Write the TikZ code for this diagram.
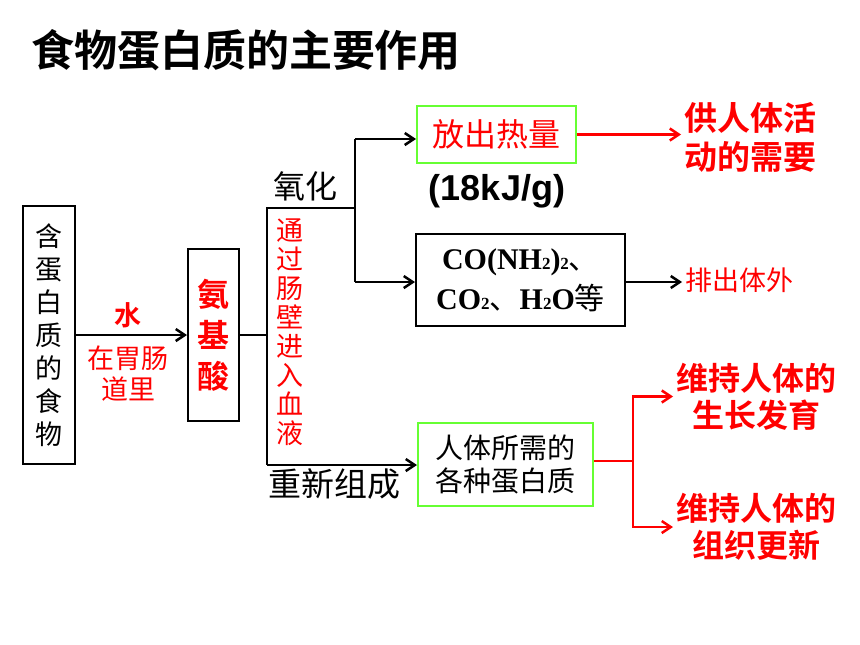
\documentclass[tikz,border=0pt]{standalone}
\usepackage{fontspec}
\setmainfont{Noto Sans CJK SC}[BoldFont={Noto Sans CJK SC Bold}]
\newfontfamily\latinsans{Liberation Sans}
\newfontfamily\latinserif{Liberation Serif}
\usepackage{tikz}
\usetikzlibrary{positioning, calc, arrows.meta}

\definecolor{boxgreen}{RGB}{102,255,51}
\definecolor{textred}{RGB}{255,0,0}
\newcommand{\fsz}[2]{\fontsize{#1}{#2}\selectfont}
\newcommand{\chemsub}[1]{{\fsz{17}{17}#1}}

\begin{document}
\begin{tikzpicture}[x=1pt,y=-1pt,line width=2.5pt,
     >={Straight Barb[length=9pt,width=12pt]},
     box/.style={rectangle,draw,line width=2pt,inner sep=0pt,align=center},
     greenbox/.style={box,draw=boxgreen},
     redtext/.style={text=textred,inner sep=0pt,align=center},
     plaintext/.style={inner sep=0pt,align=center}]

  \useasboundingbox (0,0) rectangle (860,645);

  \node[plaintext, font={\fsz{43}{43}\bfseries}] (title) at (246,50) {食物蛋白质的主要作用};

  % left part
  \node[box, minimum width=52pt, minimum height=258pt, font={\fsz{27}{33}}] (food) at (49,335)
     {含\\蛋\\白\\质\\的\\食\\物};
  \node[box, minimum width=51pt, minimum height=172pt, text=textred, font={\fsz{32}{41}\bfseries}]
     (amino) at (213.5,335) {氨\\基\\酸};
  \node[redtext, font={\fsz{27}{27}\bfseries}] (water) at (128,315) {水};
  \node[redtext, font={\fsz{27}{31}}] (stomach) at (128,374) {在胃肠\\道里};

  \coordinate (split) at (267,335);
  \coordinate (oxjoin) at (267,208);
  \coordinate (rejoin) at (267,465);
  \coordinate (oxfork) at (355,208);
  \coordinate (oxhigh) at (355,139);
  \coordinate (oxlow) at (355,282);

  \node[plaintext, font={\fsz{32}{32}}] (oxidize) at (305,186) {氧化};
  \node[redtext, font={\fsz{27}{29}}] (blood) at (290,332.5) {通\\过\\肠\\壁\\进\\入\\血\\液};
  \node[plaintext, font={\fsz{33}{33}}] (rebuild) at (334,484) {重新组成};

  % right part
  \node[greenbox, minimum width=159pt, minimum height=57pt, text=textred, font={\fsz{32}{32}}]
     (heat) at (496.5,134.5) {放出热量};
  \node[plaintext, font={\fsz{36}{36}\latinsans\bfseries}] (energy) at (497,191) {(18kJ/g)};
  \node[box, minimum width=209pt, minimum height=92pt, font={\fsz{30}{40}\latinserif\bfseries}]
     (products) at (520.5,280)
     {CO(NH\chemsub{2})\chemsub{2}{\mdseries\rmfamily 、}\hspace{10pt}\\
      CO\chemsub{2}{\mdseries\rmfamily 、}H\chemsub{2}O{\mdseries\rmfamily 等}};
  \node[greenbox, minimum width=175pt, minimum height=83pt, font={\fsz{28}{33}}]
     (proteins) at (505.5,464.5) {人体所需的\\各种蛋白质};

  \node[redtext, anchor=west, inner xsep=2pt, font={\fsz{33}{39}\bfseries}] (energyuse) at (681,137)
     {供人体活\\动的需要};
  \node[redtext, anchor=west, inner xsep=2pt, font={\fsz{27}{27}}] (outlet) at (682,280) {排出体外};
  \node[redtext, anchor=west, inner xsep=2pt, font={\fsz{32}{37}\bfseries}] (growth) at (673,396.5)
     {维持人体的\\生长发育};
  \node[redtext, anchor=west, inner xsep=2pt, font={\fsz{32}{37}\bfseries}] (renewal) at (673,527)
     {维持人体的\\组织更新};
  \coordinate (redfork) at (633,461);

  % connectors
  \draw[->] (food.east) -- (amino.west);
  \draw (amino.east) -- (split);
  \draw (oxfork) -- (oxjoin) -- (rejoin);
  \draw (oxhigh) -- (oxlow);
  \draw[->] (oxhigh) -- (oxhigh -| heat.west);
  \draw[->] (oxlow) -- (oxlow -| products.west);
  \draw[->] (rejoin) -- (rejoin -| proteins.west);
  \draw[->] (products.east |- oxlow) -- (oxlow -| outlet.west);
  \draw[->, textred] (heat.east) -- (heat.east -| energyuse.west);
  \draw[textred] (proteins.east |- redfork) -- (redfork);
  \draw[->, textred] (redfork) |- (growth.west);
  \draw[->, textred] (redfork) |- (renewal.west);
\end{tikzpicture}
\end{document}
